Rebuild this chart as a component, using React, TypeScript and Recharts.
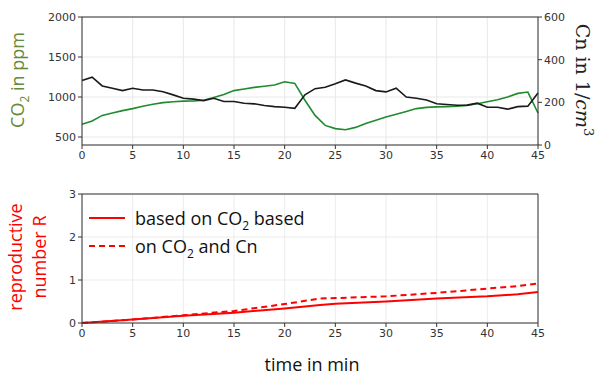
import React from "react";
import {
  CartesianGrid,
  Line,
  LineChart,
  ReferenceLine,
  XAxis,
  YAxis,
} from "recharts";

// top panel: one reading per minute
const minutes = [
  0, 1, 2, 3, 4, 5, 6, 7, 8, 9, 10, 11, 12, 13, 14, 15, 16, 17, 18, 19, 20, 21,
  22, 23, 24, 25, 26, 27, 28, 29, 30, 31, 32, 33, 34, 35, 36, 37, 38, 39, 40,
  41, 42, 43, 44, 45,
];
const co2 = [
  659, 700, 770, 800, 830, 855, 885, 910, 930, 940, 948, 950, 960, 995, 1030,
  1080, 1100, 1120, 1135, 1150, 1190, 1170, 960, 770, 645, 605, 590, 620, 670,
  710, 750, 785, 820, 855, 870, 877, 880, 884, 895, 915, 940, 965, 1000, 1045,
  1062, 800,
];
const cn = [
  302, 318, 277, 266, 255, 266, 258, 258, 250, 235, 219, 215, 208, 219, 204,
  204, 196, 193, 185, 180, 177, 172, 235, 264, 271, 287, 305, 290, 277, 255,
  249, 266, 225, 219, 211, 193, 190, 186, 187, 196, 177, 177, 168, 180, 182,
  244,
];

// bottom panel
const rTimes = [0, 5, 10, 15, 20, 23.5, 25, 30, 35, 40, 43, 45];
const rCo2 = [0, 0.08, 0.17, 0.24, 0.34, 0.42, 0.45, 0.5, 0.57, 0.62, 0.67, 0.72];
const rCo2Cn = [0, 0.08, 0.18, 0.28, 0.44, 0.57, 0.58, 0.62, 0.7, 0.8, 0.86, 0.92];

const xTicks = [0, 5, 10, 15, 20, 25, 30, 35, 40, 45];
const co2Ticks = [500, 1000, 1500, 2000];
const cnTicks = [0, 200, 400, 600];
const rTicks = [0, 1, 2, 3];

const topData = minutes.map((t, i) => ({ t, co2: co2[i], cn: cn[i] }));
const bottomData = rTimes.map((t, i) => ({ t, a: rCo2[i], b: rCo2Cn[i] }));

const tickStyle = { fontSize: 11, fill: "#333", fontFamily: "DejaVu Sans" };
const labelFont = "'Open Sans', 'Noto Sans', sans-serif";

const App: React.FC = () => {
  return (
    <div
      style={{
        position: "absolute",
        left: 0,
        top: 0,
        width: 603,
        height: 376,
        background: "#fff",
        fontFamily: labelFont,
      }}
    >
      <div style={{ position: "absolute", left: 0, top: 0 }}>
        <LineChart
          width={603}
          height={170}
          data={topData}
          margin={{ top: 17, right: 0, bottom: 0, left: 0 }}
        >
          <CartesianGrid yAxisId="co2" stroke="#e8e8e8" />
          <XAxis
            dataKey="t"
            type="number"
            domain={[0, 45]}
            ticks={xTicks}
            height={25}
            tick={tickStyle}
            tickSize={4}
            stroke="#333"
          />
          <YAxis
            yAxisId="co2"
            domain={[400, 2000]}
            ticks={co2Ticks}
            width={82}
            tick={tickStyle}
            tickSize={4}
            stroke="#333"
          />
          <YAxis
            yAxisId="cn"
            orientation="right"
            domain={[0, 600]}
            ticks={cnTicks}
            width={65}
            tick={tickStyle}
            tickSize={4}
            stroke="#333"
          />
          <ReferenceLine yAxisId="co2" y={2000} stroke="#333" />
          <Line
            yAxisId="co2"
            dataKey="co2"
            stroke="#1e8c2e"
            strokeWidth={1.6}
            dot={false}
            isAnimationActive={false}
          />
          <Line
            yAxisId="cn"
            dataKey="cn"
            stroke="#1a1a1a"
            strokeWidth={1.6}
            dot={false}
            isAnimationActive={false}
          />
        </LineChart>
      </div>

      <div
        style={{
          position: "absolute",
          left: 19,
          top: 80,
          transform: "translate(-50%, -50%) rotate(-90deg)",
          whiteSpace: "nowrap",
          fontSize: 18,
          color: "#66893a",
        }}
      >
        CO<sub style={{ fontSize: 12 }}>2</sub> in ppm
      </div>
      <div
        style={{
          position: "absolute",
          left: 584,
          top: 80,
          transform: "translate(-50%, -50%) rotate(90deg)",
          whiteSpace: "nowrap",
          fontSize: 19,
          color: "#222",
          fontFamily: "'DejaVu Serif', serif",
        }}
      >
        Cn in 1/<i>cm</i>
        <sup style={{ fontSize: 13 }}>3</sup>
      </div>

      <div style={{ position: "absolute", left: 0, top: 170 }}>
        <LineChart
          width={603}
          height={178}
          data={bottomData}
          margin={{ top: 24, right: 65, bottom: 0, left: 0 }}
        >
          <CartesianGrid stroke="#ececec" />
          <XAxis
            dataKey="t"
            type="number"
            domain={[0, 45]}
            ticks={xTicks}
            height={25}
            tick={tickStyle}
            tickSize={4}
            stroke="#333"
          />
          <YAxis
            domain={[0, 3]}
            ticks={rTicks}
            width={82}
            tick={tickStyle}
            tickSize={4}
            stroke="#333"
          />
          <ReferenceLine y={3} stroke="#333" />
          <ReferenceLine x={45} stroke="#333" />
          <Line
            dataKey="a"
            stroke="#ff0000"
            strokeWidth={2}
            dot={false}
            isAnimationActive={false}
          />
          <Line
            dataKey="b"
            stroke="#ff0000"
            strokeWidth={2}
            strokeDasharray="6 4"
            dot={false}
            isAnimationActive={false}
          />
        </LineChart>
      </div>

      <div
        style={{
          position: "absolute",
          left: 27,
          top: 257,
          transform: "translate(-50%, -50%) rotate(-90deg)",
          whiteSpace: "nowrap",
          fontSize: 18,
          lineHeight: "24px",
          color: "#ff0000",
          textAlign: "center",
        }}
      >
        reproductive
        <br />
        number R
      </div>

      <svg
        style={{ position: "absolute", left: 0, top: 0 }}
        width={603}
        height={376}
      >
        <line x1={89} y1={218} x2={125} y2={218} stroke="#ff0000" strokeWidth={2} />
        <line
          x1={89}
          y1={246}
          x2={125}
          y2={246}
          stroke="#ff0000"
          strokeWidth={2}
          strokeDasharray="6 4"
        />
      </svg>
      <div
        style={{
          position: "absolute",
          left: 135,
          top: 205,
          fontSize: 18,
          lineHeight: "26px",
          color: "#111",
          whiteSpace: "nowrap",
        }}
      >
        based on CO<sub style={{ fontSize: 12 }}>2</sub> based
      </div>
      <div
        style={{
          position: "absolute",
          left: 135,
          top: 233,
          fontSize: 18,
          lineHeight: "26px",
          color: "#111",
          whiteSpace: "nowrap",
        }}
      >
        on CO<sub style={{ fontSize: 12 }}>2</sub> and Cn
      </div>
      <div
        style={{
          position: "absolute",
          left: 312,
          top: 364,
          transform: "translate(-50%, -50%)",
          fontSize: 18,
          color: "#111",
          whiteSpace: "nowrap",
        }}
      >
        time in min
      </div>
    </div>
  );
};

export default App;
